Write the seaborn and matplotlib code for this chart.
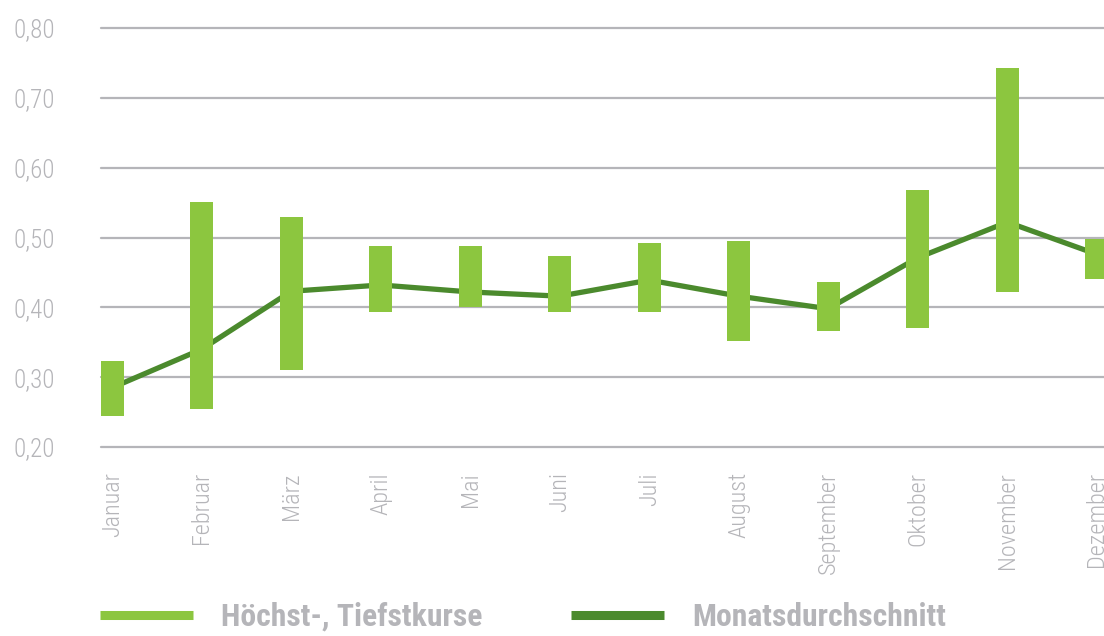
import numpy as np
import matplotlib
matplotlib.use('Agg')
import matplotlib.pyplot as plt
import seaborn as sns
from matplotlib.lines import Line2D

# Data
months = ['Januar', 'Februar', 'März', 'April', 'Mai', 'Juni', 'Juli',
          'August', 'September', 'Oktober', 'November', 'Dezember']
high = [0.323, 0.551, 0.530, 0.488, 0.488, 0.474, 0.492, 0.495, 0.436, 0.568, 0.743, 0.498]
low = [0.244, 0.254, 0.310, 0.393, 0.400, 0.393, 0.393, 0.352, 0.366, 0.370, 0.422, 0.441]
avg = [0.285, 0.340, 0.423, 0.432, 0.422, 0.416, 0.439, 0.416, 0.398, 0.471, 0.522, 0.476]
yticks = [0.2, 0.3, 0.4, 0.5, 0.6, 0.7, 0.8]
ytick_labels = ['0,20', '0,30', '0,40', '0,50', '0,60', '0,70', '0,80']

light_green = '#8cc63f'
dark_green = '#4b8a2d'
grey = '#b5b5b9'
cond = ['Roboto Condensed', 'DejaVu Sans']

sns.set_style('white')

fig = plt.figure(figsize=(11.04, 6.36), dpi=100)
ax = fig.add_axes([101 / 1104, 1 - 447 / 636, 1007 / 1104, 419 / 636])

x = np.arange(len(months))
sns.lineplot(x=x, y=avg, ax=ax, color=dark_green, linewidth=3.8, zorder=2)
ax.bar(x, np.array(high) - np.array(low), bottom=low, width=0.26,
       color=light_green, linewidth=0, zorder=3)

ax.set_xlim(-0.125, 11.125)
ax.set_ylim(0.2, 0.8)
ax.set_yticks(yticks)
ax.set_yticklabels(ytick_labels, family=cond, fontsize=18, fontweight='light', color=grey)
ax.set_xticks(x)
ax.set_xticklabels(months, rotation=90, family=cond, fontsize=17.5,
                   fontweight='light', color=grey, va='top')
ax.tick_params(axis='y', length=0, pad=33)
ax.tick_params(axis='x', length=0, pad=18)

for v in yticks:
    ax.axhline(v, color=grey, linewidth=1.6, zorder=1, clip_on=False)
sns.despine(ax=ax, left=True, bottom=True)
ax.grid(False)

handles = [Line2D([0], [0], color=light_green, linewidth=6.5, solid_capstyle='butt'),
           Line2D([0], [0], color=dark_green, linewidth=6.5, solid_capstyle='butt')]
fig.legend(handles, ['Höchst-, Tiefstkurse', 'Monatsdurchschnitt'],
           loc='center left', bbox_to_anchor=(100 / 1104, 1 - 617 / 636),
           ncol=2, frameon=False, borderpad=0, borderaxespad=0,
           handlelength=2.93, handletextpad=0.9, columnspacing=2.8,
           prop={'family': cond, 'size': 22.8, 'weight': 'bold'},
           labelcolor=grey)

fig.savefig('out.png', dpi=100)
